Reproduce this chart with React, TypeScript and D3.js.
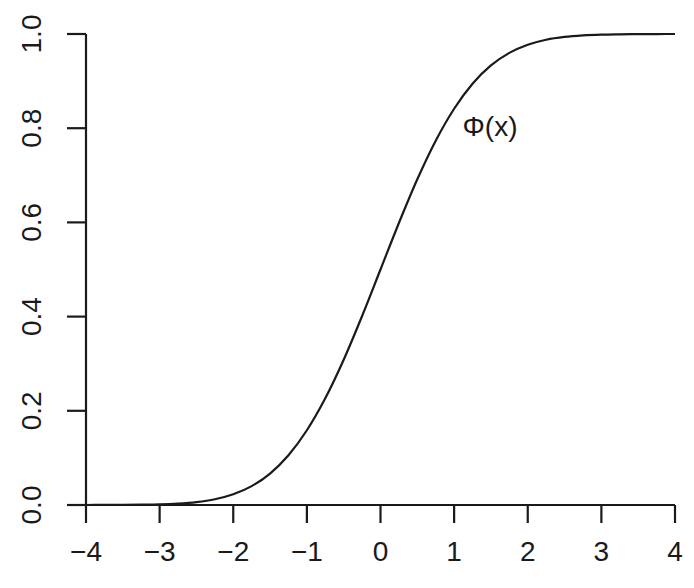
import React from "react";
import * as d3 from "d3";

const xs = [-4, -3.75, -3.5, -3.25, -3, -2.75, -2.5, -2.25, -2, -1.75, -1.5, -1.25, -1, -0.75, -0.5, -0.25, 0, 0.25, 0.5, 0.75, 1, 1.25, 1.5, 1.75, 2, 2.25, 2.5, 2.75, 3, 3.25, 3.5, 3.75, 4];
const ys = [0.00003, 0.0001, 0.0002, 0.0006, 0.0013, 0.003, 0.0062, 0.0122, 0.0228, 0.0401, 0.0668, 0.1056, 0.1587, 0.2266, 0.3085, 0.4013, 0.5, 0.5987, 0.6915, 0.7734, 0.8413, 0.8944, 0.9332, 0.9599, 0.9772, 0.9878, 0.9938, 0.997, 0.9987, 0.9994, 0.9998, 0.9999, 1.0];
const xTicks = [-4, -3, -2, -1, 0, 1, 2, 3, 4];
const yTicks = [0, 0.2, 0.4, 0.6, 0.8, 1.0];
const labelText = "Φ(x)";
const labelPos = [1.5, 0.8];

export default function App() {
  const W = 694, H = 588;
  const x = d3.scaleLinear().domain([-4, 4]).range([86, 675]);
  const y = d3.scaleLinear().domain([0, 1]).range([505, 34]);
  const line = d3.line<number>().x((_, i) => x(xs[i])).y((d) => y(d)).curve(d3.curveMonotoneX);
  const col = "#1a1a1a";
  const font = "'Liberation Sans', Arial, sans-serif";
  const fs = 28;
  const sw = 2.2;
  return (
    <svg width={W} height={H} style={{ position: "absolute", left: 0, top: 0, background: "#fff" }}>
      <path d={line(ys) || ""} fill="none" stroke={col} strokeWidth={sw} />
      <line x1={x(-4)} x2={x(4)} y1={y(0)} y2={y(0)} stroke={col} strokeWidth={sw} />
      <line x1={x(-4)} x2={x(-4)} y1={y(0)} y2={y(1)} stroke={col} strokeWidth={sw} />
      {xTicks.map((t) => (
        <g key={"x" + t}>
          <line x1={x(t)} x2={x(t)} y1={y(0)} y2={y(0) + 18} stroke={col} strokeWidth={sw} />
          <text x={x(t)} y={y(0) + 56} textAnchor="middle" fontFamily={font} fontSize={fs} fill={col}>
            {t < 0 ? "\u2212" + Math.abs(t) : String(t)}
          </text>
        </g>
      ))}
      {yTicks.map((t) => (
        <g key={"y" + t}>
          <line x1={x(-4) - 19} x2={x(-4)} y1={y(t)} y2={y(t)} stroke={col} strokeWidth={sw} />
          <text transform={`translate(${x(-4) - 45},${y(t)}) rotate(-90)`} textAnchor="middle" fontFamily={font} fontSize={fs} fill={col}>
            {t.toFixed(1)}
          </text>
        </g>
      ))}
      <text x={490} y={y(labelPos[1])} textAnchor="middle" dominantBaseline="middle" fontFamily={font} fontSize={fs} fill={col}>
        {labelText}
      </text>
    </svg>
  );
}
